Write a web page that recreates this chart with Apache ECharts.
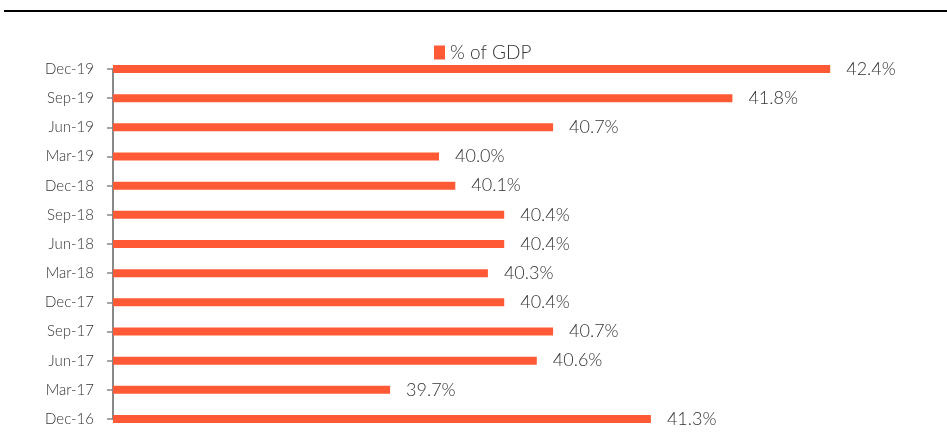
<!DOCTYPE html>
<html>
<head>
<meta charset="utf-8">
<script src="https://cdn.jsdelivr.net/npm/echarts@6/dist/echarts.min.js"></script>
<style>
  html, body { margin: 0; padding: 0; background: #fff; }
  #chart { width: 947px; height: 439px; }
</style>
</head>
<body>
<div id="chart"></div>
<script>
// Quarter labels, bottom to top
const quarters = ['Dec-16', 'Mar-17', 'Jun-17', 'Sep-17', 'Dec-17', 'Mar-18', 'Jun-18',
                  'Sep-18', 'Dec-18', 'Mar-19', 'Jun-19', 'Sep-19', 'Dec-19'];
// Ratio to GDP, percent
const pctOfGdp = [41.3, 39.7, 40.6, 40.7, 40.4, 40.3, 40.4, 40.4, 40.1, 40.0, 40.7, 41.8, 42.4];
const seriesName = '% of GDP';

const FONT = 'Lato, "Open Sans", sans-serif';
const chart = echarts.init(document.getElementById('chart'), null, { renderer: 'canvas' });

chart.setOption({
  animation: false,
  backgroundColor: '#ffffff',
  graphic: [{
    type: 'line',
    shape: { x1: 4, y1: 11, x2: 947, y2: 11 },
    style: { stroke: '#000000', lineWidth: 2 }
  }],
  legend: {
    data: [{ name: seriesName, icon: 'rect' }],
    left: 429,
    top: 38,
    itemWidth: 11,
    itemHeight: 14,
    itemGap: 6,
    textStyle: { fontFamily: FONT, fontWeight: 300, fontSize: 19, color: '#333333' }
  },
  grid: { left: 113, right: 19, top: 69, bottom: 20, containLabel: false },
  xAxis: {
    type: 'value',
    min: 38,
    max: 43,
    show: false
  },
  yAxis: {
    type: 'category',
    data: quarters,
    boundaryGap: false,
    axisLine: { show: true, lineStyle: { color: '#888888', width: 2 } },
    axisTick: { show: true, length: 6, lineStyle: { color: '#888888', width: 1.5 } },
    axisLabel: { margin: 19, fontFamily: FONT, fontWeight: 300, fontSize: 15, color: '#333333' },
    splitLine: { show: false }
  },
  series: [{
    name: seriesName,
    type: 'bar',
    data: pctOfGdp,
    barWidth: 8,
    itemStyle: { color: '#FF5A35' },
    label: {
      show: true,
      position: 'right',
      distance: 16,
      fontFamily: FONT,
      fontWeight: 300,
      fontSize: 18,
      color: '#333333',
      formatter: p => p.value.toFixed(1) + '%'
    }
  }]
});
</script>
</body>
</html>
